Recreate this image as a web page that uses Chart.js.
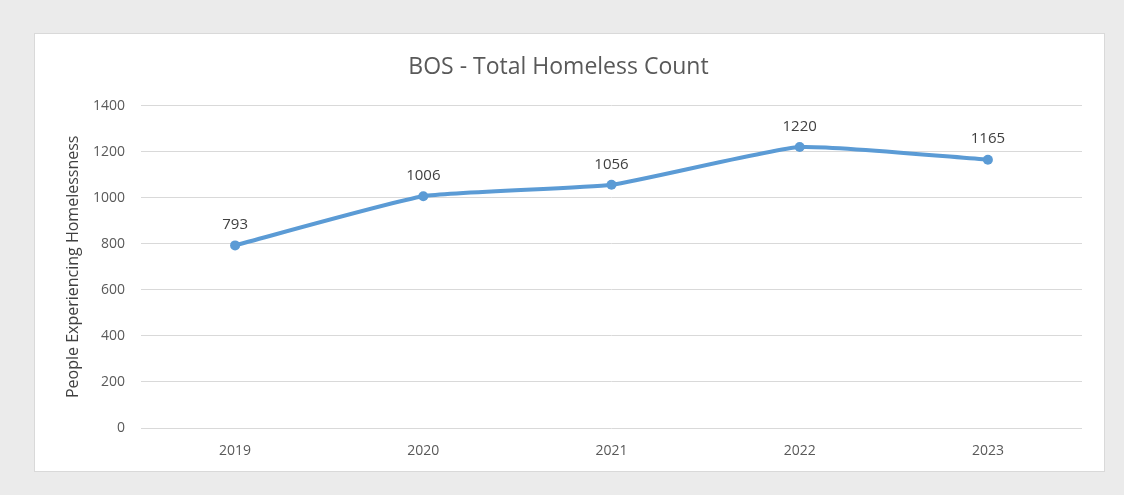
<!DOCTYPE html>
<html>
<head>
<meta charset="utf-8">
<script src="https://cdn.jsdelivr.net/npm/chart.js@4"></script>
<style>
  html, body { margin: 0; padding: 0; background: #ebebeb; }
  #panel {
    position: absolute; left: 34px; top: 33px;
    width: 1069px; height: 437px;
    background: #fff; border: 1px solid #d9d9d9;
  }
  canvas { display: block; }
</style>
</head>
<body>
<div id="panel"><canvas id="grafico" width="1069" height="437"></canvas></div>
<script>
const anos = ["2019", "2020", "2021", "2022", "2023"];
const totalSemTeto = [793, 1006, 1056, 1220, 1165];
const ticksY = [0, 200, 400, 600, 800, 1000, 1200, 1400];

const fonte = '"Open Sans", "Liberation Sans", sans-serif';

// rótulos de valor acima dos pontos
const rotulos = {
  id: "rotulos",
  afterDatasetsDraw(chart) {
    const ctx = chart.ctx;
    const meta = chart.getDatasetMeta(0);
    ctx.save();
    ctx.font = "15px " + fonte;
    ctx.fillStyle = "#404040";
    ctx.textAlign = "center";
    ctx.textBaseline = "bottom";
    meta.data.forEach((p, i) => {
      ctx.fillText(String(totalSemTeto[i]), p.x, p.y - 13);
    });
    ctx.restore();
  }
};

const ctx = document.getElementById("grafico").getContext("2d");
window.graficoLinha = new Chart(ctx, {
  type: "line",
  data: {
    labels: anos,
    datasets: [{
      label: "Total",
      data: totalSemTeto,
      borderColor: "#5b9bd5",
      backgroundColor: "#5b9bd5",
      borderWidth: 4,
      pointRadius: 5,
      pointBorderWidth: 0,
      tension: 0.15
    }]
  },
  options: {
    responsive: false,
    animation: false,
    layout: { padding: { left: 0, right: 22, top: 0, bottom: 10 } },
    plugins: {
      legend: { display: false },
      tooltip: { enabled: false },
      title: {
        display: true,
        text: "BOS - Total Homeless Count",
        color: "#595959",
        font: { family: fonte, size: 23, weight: "normal" },
        padding: { top: 20, bottom: 24 }
      }
    },
    scales: {
      x: {
        offset: true,
        grid: { display: false },
        border: { display: false },
        ticks: { color: "#595959", font: { family: fonte, size: 14 }, padding: 7 },
        afterFit: s => { s.height = 33; }
      },
      y: {
        min: 0,
        max: 1400,
        afterBuildTicks: s => { s.ticks = ticksY.map(v => ({ value: v })); },
        grid: { color: "#d9d9d9", lineWidth: 1, drawTicks: false },
        border: { display: false },
        ticks: {
          color: "#595959",
          font: { family: fonte, size: 14 },
          padding: 16,
          callback: v => String(v)
        },
        title: {
          display: true,
          text: "People Experiencing Homelessness",
          color: "#404040",
          font: { family: fonte, size: 16 },
          padding: { top: 29, bottom: 4 }
        },
        afterFit: s => { s.width = 106; }
      }
    }
  },
  plugins: [rotulos]
});
</script>
</body>
</html>
